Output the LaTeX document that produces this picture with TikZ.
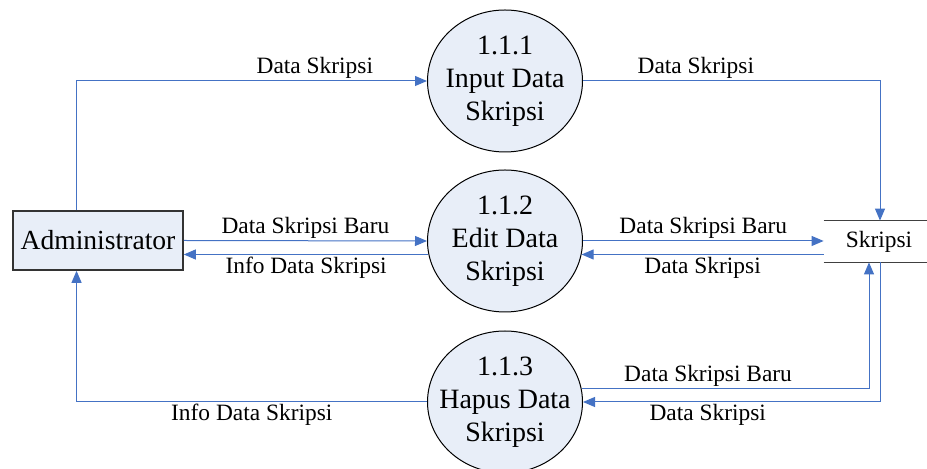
\documentclass[tikz,border=0pt]{standalone}
\usepackage{fontspec}
\setmainfont{Liberation Serif}
\usetikzlibrary{shapes.geometric,arrows.meta,calc}

\definecolor{flowblue}{RGB}{68,114,196}
\definecolor{procfill}{RGB}{232,238,248}

\tikzstyle{line} = [draw=flowblue, line width=0.5pt, -{Triangle[length=6pt,width=5pt]}]
\tikzstyle{proc} = [ellipse, draw, fill=procfill, line width=0.5pt, minimum width=77.5pt, minimum height=71pt, inner sep=0pt]
\tikzstyle{proctext} = [align=center, inner sep=0pt, font=\fontsize{14}{16.5}\selectfont]
\tikzstyle{ent} = [rectangle, draw=black!80, fill=procfill, line width=0.8pt, minimum width=85pt, minimum height=29.5pt, font=\fontsize{13.8}{16}\selectfont]
\tikzstyle{lbl} = [font=\fontsize{11.7}{13}\selectfont, inner sep=1pt]

\begin{document}
\begin{tikzpicture}[x=0.5pt,y=-0.5pt]
		\useasboundingbox (0,0) rectangle (927,469);
		
		%processes
		\node[proc, label={[proctext]center:{1.1.1\\Input Data\\Skripsi}}] (input) at (505,81) {};
		\node[proc, label={[proctext]center:{1.1.2\\Edit Data\\Skripsi}}] (edit) at (505,241) {};
		\node[proc, label={[proctext]center:{1.1.3\\Hapus Data\\Skripsi}}] (hapus) at (505,402) {};
		%entity
		\node[ent] (admin) at (98,240.5) {Administrator};
		%data store
		\node[lbl, minimum width=55pt, minimum height=20.5pt] (store) at (879,241.5) {Skripsi};
		\draw[black!75, line width=0.7pt] (store.north west) -- (store.north east);
		\draw[black!75, line width=0.7pt] (store.south west) -- (store.south east);
		
		%flows admin
		\draw[line] ($(admin.north west)!0.375!(admin.north east)$) |- (input.west) node[lbl, pos=0.84, above] {Data Skripsi};
		\draw[line] (admin.east) -- (edit.west) node[lbl, midway, above] {Data Skripsi Baru};
		\draw[line] (edit.190.4) -- (edit.190.4 -| admin.east) node[lbl, midway, below] {Info Data Skripsi};
		\draw[line] (hapus.west) -| ($(admin.south west)!0.375!(admin.south east)$) node[lbl, pos=0.25, below] {Info Data Skripsi};
		%flows store
		\draw[line] (input.east) -| ($(store.north)+(1,0)$) node[lbl, pos=0.19, above] {Data Skripsi};
		\draw[line] (edit.east) -- (edit.east -| store.west) node[lbl, midway, above] {Data Skripsi Baru};
		\draw[line] (edit.-10.4 -| store.west) -- (edit.-10.4) node[lbl, midway, below] {Data Skripsi};
		\draw[line] (hapus.10.4) -| ($(store.south)+(-10,0)$) node[lbl, pos=0.22, above] {Data Skripsi Baru};
		\draw[line] ($(store.south)+(1,0)$) |- (hapus.east) node[lbl, pos=0.79, below] {Data Skripsi};
\end{tikzpicture}
\end{document}
